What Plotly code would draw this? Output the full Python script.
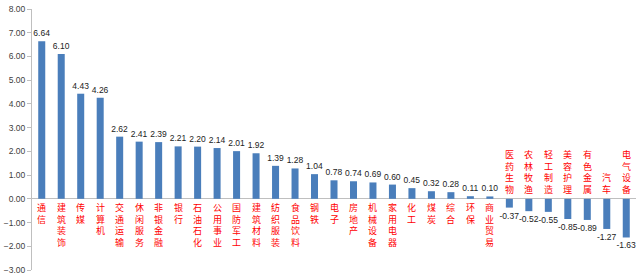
import plotly.graph_objects as go

categories = ["通信", "建筑装饰", "传媒", "计算机", "交通运输", "休闲服务", "非银金融", "银行",
              "石油石化", "公用事业", "国防军工", "建筑材料", "纺织服装", "食品饮料", "钢铁", "电子",
              "房地产", "机械设备", "家用电器", "化工", "煤炭", "综合", "环保", "商业贸易",
              "医药生物", "农林牧渔", "轻工制造", "美容护理", "有色金属", "汽车", "电气设备"]
values = [6.64, 6.10, 4.43, 4.26, 2.62, 2.41, 2.39, 2.21, 2.20, 2.14, 2.01, 1.92, 1.39, 1.28,
          1.04, 0.78, 0.74, 0.69, 0.60, 0.45, 0.32, 0.28, 0.11, 0.10,
          -0.37, -0.52, -0.55, -0.85, -0.89, -1.27, -1.63]
y_ticks = [-3, -2, -1, 0, 1, 2, 3, 4, 5, 6, 7, 8]

fig = go.Figure()
fig.add_trace(go.Bar(
    x=categories, y=values,
    marker=dict(color="#4A7EBB", line=dict(width=0)),
    text=[f"{v:.2f}" for v in values],
    textposition="outside",
    constraintext="none",
    textfont=dict(size=8.5, color="#222222", family="Liberation Sans"),
    cliponaxis=False,
    width=0.36,
))

annotations = []
for cat, v in zip(categories, values):
    ann = dict(x=cat, y=0, xref="x", yref="y", text="<br>".join(cat), showarrow=False,
               font=dict(size=9, color="#FF0000", family="Noto Sans CJK SC"),
               borderpad=0)
    if v >= 0:
        ann.update(yanchor="top", yshift=-1)
    else:
        ann.update(yanchor="bottom", yshift=2)
    annotations.append(ann)

fig.update_layout(
    width=640, height=279,
    margin=dict(l=29, r=4, t=6, b=6),
    paper_bgcolor="white", plot_bgcolor="white",
    showlegend=False,
    annotations=annotations,
    xaxis=dict(showticklabels=False, showgrid=False, showline=False, ticks="",
               zeroline=False),
    yaxis=dict(range=[-3, 8], tickvals=y_ticks, tickformat=".2f",
               showgrid=False, zeroline=True, zerolinecolor="#BFBFBF", zerolinewidth=1,
               showline=True, linecolor="#BFBFBF", linewidth=1,
               ticks="outside", ticklen=4, tickcolor="#BFBFBF",
               tickfont=dict(size=8.5, color="#404040", family="Liberation Sans")),
)

fig.write_html("out.html")
